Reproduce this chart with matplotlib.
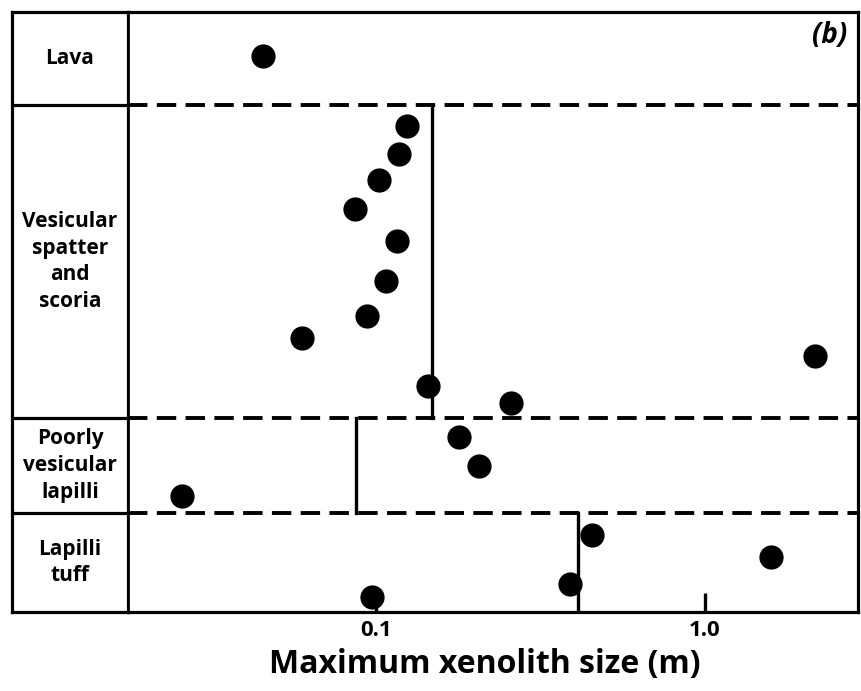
import matplotlib.pyplot as plt
import numpy as np

# categories (top to bottom) and the row boundaries (0 = top of box, 600 = bottom)
categories = ['Lava', 'Vesicular\nspatter\nand\nscoria', 'Poorly\nvesicular\nlapilli', 'Lapilli\ntuff']
bounds = [0, 93, 406, 501, 600]

# max xenolith size (m) and vertical position inside the box
lava_x = [0.0454]
lava_y = [44]
spatter_x = [0.124, 0.1175, 0.102, 0.0863, 0.116, 0.107, 0.094, 0.0596, 2.16, 0.144, 0.257]
spatter_y = [114, 142, 168, 197, 229, 269, 304, 326, 344, 374, 391]
poor_x = [0.179, 0.206, 0.0257]
poor_y = [425, 454, 484]
tuff_x = [0.454, 1.59, 0.389, 0.097]
tuff_y = [523, 545, 572, 585]

# vertical reference lines, one per section (Lava has none)
median_x = [None, 0.148, 0.0869, 0.411]

fig = plt.figure(figsize=(8.62, 6.91), dpi=100)
W, H = 862, 691
left, right, top, bottom = 12, 858, 12, 612
split = 128

ax_lab = fig.add_axes([left / W, 1 - bottom / H, (split - left) / W, (bottom - top) / H])
ax = fig.add_axes([split / W, 1 - bottom / H, (right - split) / W, (bottom - top) / H])

xmin, xmax = 10 ** (-1 - (376 - split) / 329), 10 ** ((right - 705) / 329)

for a in (ax, ax_lab):
    a.set_ylim(600, 0)
    for s in a.spines.values():
        s.set_linewidth(2.3)

ax.set_xscale('log')
ax.set_xlim(xmin, xmax)
ax.set_yticks([])
ax.spines['left'].set_linewidth(2.0)

ax_lab.set_xlim(0, 1)
ax_lab.set_xticks([])
ax_lab.set_yticks([])

# separators
for b in bounds[1:-1]:
    ax.axhline(b, color='black', lw=2.8, ls=(0, (5, 2.4)))
    ax_lab.axhline(b, color='black', lw=2.3)

for i, m in enumerate(median_x):
    if m is None:
        continue
    ax.plot([m, m], [bounds[i], bounds[i + 1]], color='black', lw=2.4)

for i, c in enumerate(categories):
    ax_lab.text(0.5, (bounds[i] + bounds[i + 1]) / 2, c, ha='center', va='center',
                fontsize=15, fontweight='bold', family='Open Sans', linespacing=1.35)

xs = lava_x + spatter_x + poor_x + tuff_x
ys = lava_y + spatter_y + poor_y + tuff_y
ax.scatter(xs, ys, s=270, color='black', zorder=5, clip_on=False)

ax.set_xticks([0.1, 1.0])
ax.set_xticklabels(['0.1', '1.0'])
ax.xaxis.set_minor_locator(plt.NullLocator())
ax.tick_params(axis='x', direction='in', length=14, width=2.4, labelsize=16, pad=6)
for t in ax.get_xticklabels():
    t.set_fontweight('bold')
    t.set_family('Open Sans')

ax.set_xlabel('Maximum xenolith size (m)', fontsize=23, fontweight='bold',
              family='Open Sans', labelpad=0)
ax.xaxis.set_label_coords(0.489, -0.06, transform=ax.transAxes)
ax.xaxis.label.set_va('top')

ax.text(0.985, 0.985, '(b)', transform=ax.transAxes, ha='right', va='top',
        fontsize=20, fontweight='bold', style='italic', family='Open Sans')

fig.savefig('out.png', dpi=100)
